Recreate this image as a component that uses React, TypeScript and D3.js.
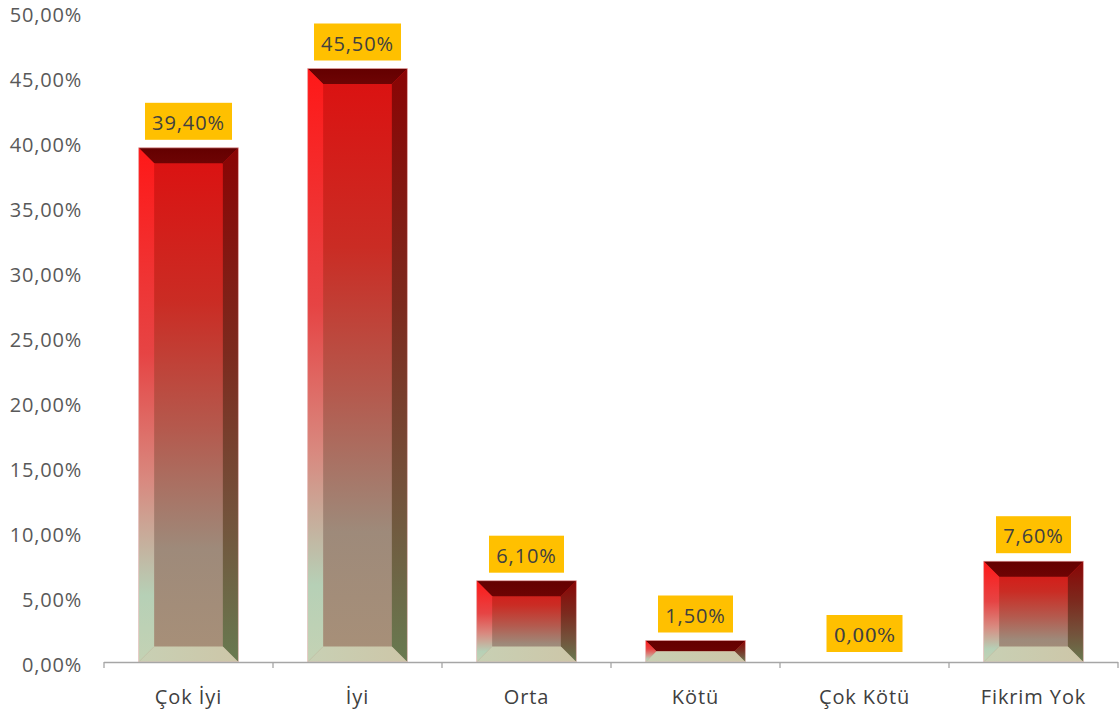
import React from "react";
import * as d3 from "d3";

const categories = ["Çok İyi", "İyi", "Orta", "Kötü", "Çok Kötü", "Fikrim Yok"];
const values = [39.4, 45.5, 6.1, 1.5, 0.0, 7.6];
const yTicks = [0, 5, 10, 15, 20, 25, 30, 35, 40, 45, 50];

const W = 1119;
const H = 717;
const fmt = (v: number) => v.toFixed(2).replace(".", ",") + "%";
const FONT = "'Open Sans', 'Noto Sans', sans-serif";
const SERIF = "'DejaVu Serif', 'Liberation Serif', serif";

export default function App() {
  const x = d3.scaleBand<string>().domain(categories).range([104, 1118]).paddingInner(0.41).paddingOuter(0.205);
  const y = d3.scaleLinear().domain([0, 50]).range([662, 12]);
  const step = x.step();
  const boundaries = d3.range(categories.length + 1).map((i) => 104 + i * step);

  return (
    <svg width={W} height={H} style={{ position: "absolute", left: 0, top: 0, background: "#fff", fontFamily: FONT }}>
      <defs>
        {values.map((v, i) => {
          const x0 = x(categories[i])!;
          const top = y(v) - 2;
          const bot = y(0);
          return (
            <g key={i}>
              <linearGradient id={`front${i}`} gradientUnits="userSpaceOnUse" x1={0} y1={top} x2={0} y2={bot}>
                <stop offset="0" stopColor="#dc1010" />
                <stop offset="0.3" stopColor="#ca2c24" />
                <stop offset="0.55" stopColor="#b45a4e" />
                <stop offset="0.78" stopColor="#9e8a7a" />
                <stop offset="1" stopColor="#a89078" />
              </linearGradient>
              <linearGradient id={`left${i}`} gradientUnits="userSpaceOnUse" x1={0} y1={top} x2={0} y2={bot}>
                <stop offset="0" stopColor="#ff1818" />
                <stop offset="0.4" stopColor="#e64444" />
                <stop offset="0.65" stopColor="#d88a80" />
                <stop offset="0.87" stopColor="#b6d0b6" />
                <stop offset="1" stopColor="#c4d2b4" />
              </linearGradient>
              <linearGradient id={`right${i}`} gradientUnits="userSpaceOnUse" x1={0} y1={top} x2={0} y2={bot}>
                <stop offset="0" stopColor="#8a0404" />
                <stop offset="0.4" stopColor="#7c2a1e" />
                <stop offset="0.7" stopColor="#74503a" />
                <stop offset="1" stopColor="#687a50" />
              </linearGradient>
              <linearGradient id={`topb${i}`} gradientUnits="userSpaceOnUse" x1={0} y1={top} x2={0} y2={top + 16}>
                <stop offset="0" stopColor="#640000" />
                <stop offset="1" stopColor="#6e0404" />
              </linearGradient>
              <linearGradient id={`botb${i}`} gradientUnits="userSpaceOnUse" x1={x0} y1={0} x2={x0 + x.bandwidth()} y2={0}>
                <stop offset="0" stopColor="#c8d0b4" />
                <stop offset="1" stopColor="#cdc6a8" />
              </linearGradient>
            </g>
          );
        })}
      </defs>

      {/* y tick labels */}
      {yTicks.map((t) => (
        <text key={t} x={82} y={y(t) + 2} textAnchor="end" dominantBaseline="central" fontSize={20} letterSpacing={0.8} fill="#595959">
          {fmt(t)}
        </text>
      ))}

      {/* bars */}
      {values.map((v, i) => {
        const x0 = x(categories[i])!;
        const w = x.bandwidth();
        const bot = y(0);
        if (v <= 0) return null;
        const top = y(v) - 2;
        const h = bot - top;
        const b = Math.min(15.5, h / 2, w / 2);
        const x1 = x0 + w;
        const pts = (arr: number[][]) => arr.map((p) => p.join(",")).join(" ");
        return (
          <g key={i}>
            <rect x={x0} y={top} width={w} height={h} fill={`url(#front${i})`} />
            <polygon points={pts([[x0, top], [x1, top], [x1 - b, top + b], [x0 + b, top + b]])} fill={`url(#topb${i})`} />
            <polygon points={pts([[x0, top], [x0 + b, top + b], [x0 + b, bot - b], [x0, bot]])} fill={`url(#left${i})`} />
            <polygon points={pts([[x1, top], [x1, bot], [x1 - b, bot - b], [x1 - b, top + b]])} fill={`url(#right${i})`} />
            <polygon points={pts([[x0, bot], [x0 + b, bot - b], [x1 - b, bot - b], [x1, bot]])} fill={`url(#botb${i})`} />
            <rect x={x0} y={top} width={w} height={h} fill="none" stroke="#f0c8c8" strokeWidth={0.8} strokeOpacity={0.8} />
          </g>
        );
      })}

      {/* x axis */}
      <line x1={104} x2={1118} y1={662.5} y2={662.5} stroke="#a6a6a6" strokeWidth={1.3} />
      {boundaries.map((bx, i) => (
        <line key={i} x1={bx} x2={bx} y1={662} y2={668} stroke="#a6a6a6" strokeWidth={1.3} />
      ))}
      {categories.map((c) => (
        <text key={c} x={x(c)! + x.bandwidth() / 2} y={704} textAnchor="middle" fontSize={20} letterSpacing={0.9} fill="#404040">
          {c}
        </text>
      ))}

      {/* value labels */}
      {values.map((v, i) => {
        const cx = x(categories[i])! + x.bandwidth() / 2;
        const top = y(v) - 2;
        const label = fmt(v);
        const zero = v === 0;
        const bw = zero ? 76 : label.length >= 6 ? 87 : 75;
        const bh = 37;
        const by = top - 8 - bh;
        return (
          <g key={i}>
            <rect x={cx - bw / 2} y={by} width={bw} height={bh} fill="#ffc000" />
            <text
              x={cx}
              y={by + bh / 2 + 1}
              textAnchor="middle"
              dominantBaseline="central"
              fontSize={zero ? 19 : 20}
              letterSpacing={zero ? 0.2 : 0.9}
              style={{ fontFamily: zero ? SERIF : FONT }}
              fill="#404040"
            >
              {label}
            </text>
          </g>
        );
      })}
    </svg>
  );
}
